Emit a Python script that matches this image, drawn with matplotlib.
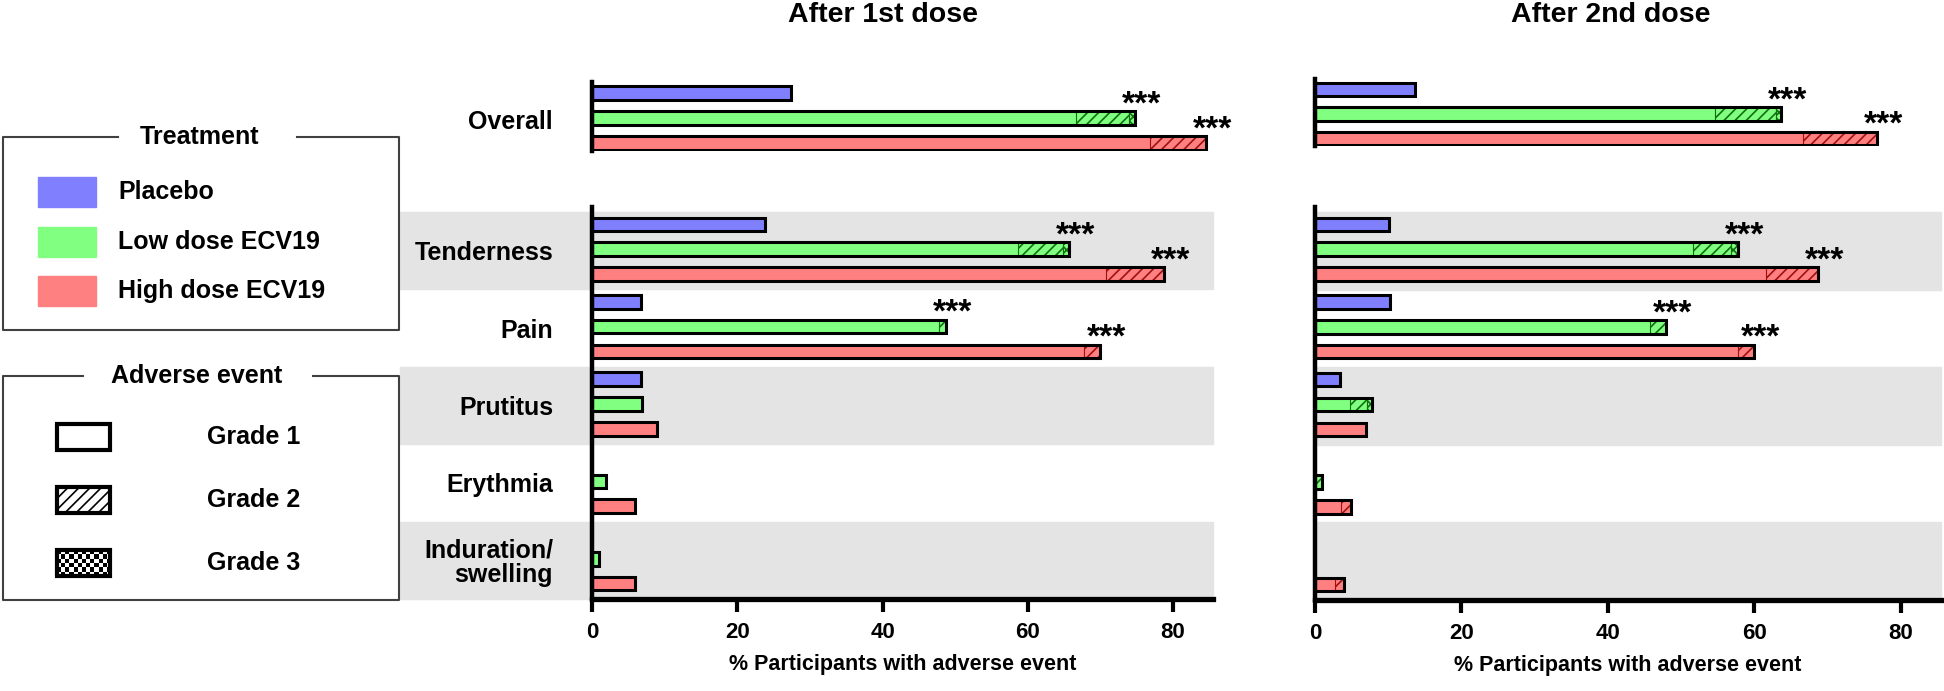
import matplotlib
matplotlib.use("Agg")
import matplotlib.pyplot as plt
from matplotlib.patches import Rectangle
from matplotlib.transforms import blended_transform_factory
import numpy as np

plt.rcParams['font.family'] = ['Liberation Sans', 'DejaVu Sans']
plt.rcParams['font.weight'] = 'bold'
plt.rcParams['axes.labelweight'] = 'bold'
plt.rcParams['hatch.linewidth'] = 1.2

# rows: Overall, Tenderness, Pain, Prutitus, Erythmia, Induration/swelling
rows = ['Overall', 'Tenderness', 'Pain', 'Prutitus', 'Erythmia', 'Induration/\nswelling']
groups = ['Placebo', 'Low dose ECV19', 'High dose ECV19']
grades = ['Grade 1', 'Grade 2', 'Grade 3']
xticks = [0, 20, 40, 60, 80]

# % participants, after 1st dose
d1_placebo_g1 = [27.4, 23.8, 6.8, 6.8, 0, 0]
d1_low_g1 = [66.7, 58.7, 47.8, 6.9, 1.9, 0.9]
d1_low_g2 = [7.2, 6.1, 1.0, 0, 0, 0]
d1_low_g3 = [0.9, 0.9, 0, 0, 0, 0]
d1_high_g1 = [76.8, 70.7, 67.8, 8.9, 5.9, 5.9]
d1_high_g2 = [7.8, 8.0, 2.1, 0, 0, 0]
d1_high_g3 = [0, 0, 0, 0, 0, 0]

# % participants, after 2nd dose
d2_placebo_g1 = [13.6, 10.1, 10.3, 3.4, 0, 0]
d2_low_g1 = [54.7, 51.6, 45.8, 4.8, 0, 0]
d2_low_g2 = [8.3, 5.2, 2.1, 2.3, 0.9, 0]
d2_low_g3 = [0.7, 1.0, 0, 0.7, 0, 0]
d2_high_g1 = [66.6, 61.6, 57.8, 6.9, 3.6, 2.7]
d2_high_g2 = [10.1, 7.1, 2.2, 0, 1.3, 1.2]
d2_high_g3 = [0, 0, 0, 0, 0, 0]

zeros = [0, 0, 0, 0, 0, 0]
# *** markers (p<0.001 vs placebo)
sig_low = [1, 1, 1, 0, 0, 0]
sig_high = [1, 1, 1, 0, 0, 0]

colors = ['#8080ff', '#80ff80', '#ff8080']
darks = ['#2020a0', '#107010', '#a01010']
hatches = [None, '///', 'xxxx']

W, H = 1944, 691
fig = plt.figure(figsize=(W / 100, H / 100), dpi=100)


def box(x0, y0, x1, y1):
    return [x0 / W, 1 - y1 / H, (x1 - x0) / W, (y1 - y0) / H]


offsets = [-0.34, -0.02, 0.30]
bh = 0.175


def draw_bars(ax, ypos, vals, sig):
    # vals: [group][grade]
    for g in range(3):
        y = ypos + offsets[g]
        left = 0
        for k in range(3):
            v = vals[g][k]
            if v <= 0:
                continue
            if k == 0:
                ax.barh(y, v, left=left, height=bh, color=colors[g], lw=0, zorder=2)
            else:
                ax.barh(y, v, left=left, height=bh, color=colors[g], edgecolor=darks[g],
                        hatch=hatches[k], lw=0.8, zorder=2)
            left += v
        if left > 0:
            ax.barh(y, left, height=bh, fill=False, edgecolor='black', lw=2.2, zorder=3)
        if sig[g]:
            ax.text(left + 0.9, y - 0.06, '***', ha='center', va='baseline', fontsize=24, zorder=4)


def panel(ax_up, ax_low, data, x0frac, labels):
    # data: list over groups of (g1, g2, g3)
    for ax in (ax_up, ax_low):
        ax.set_xlim(0, 85.5)
        for s in ('top', 'right'):
            ax.spines[s].set_visible(False)
        ax.spines['left'].set_linewidth(3.2)
        ax.patch.set_visible(False)
    ax_up.spines['bottom'].set_visible(False)
    ax_up.set_ylim(0.40, -0.48)
    ax_up.set_xticks([])
    ax_low.set_ylim(4.5, -0.565)
    ax_low.spines['bottom'].set_linewidth(3.8)

    sigs = [[0] * 6, sig_low, sig_high]
    for r in range(6):
        vals = [[data[g][k][r] for k in range(3)] for g in range(3)]
        sig = [sigs[g][r] for g in range(3)]
        if r == 0:
            draw_bars(ax_up, 0, vals, sig)
        else:
            draw_bars(ax_low, r - 1, vals, sig)

    tr = blended_transform_factory(ax_low.transAxes, ax_low.transData)
    for i in (0, 2, 4):
        ax_low.add_patch(Rectangle((x0frac, i - 0.5), 1 - x0frac, 1, transform=tr,
                                   color='#e4e4e4', zorder=0, clip_on=False))

    ax_up.set_yticks([0])
    ax_low.set_yticks(range(5))
    if labels:
        ax_up.set_yticklabels(rows[:1], fontsize=18)
        ax_low.set_yticklabels(rows[1:], fontsize=18)
        for t in ax_low.get_yticklabels():
            t.set_linespacing(1.0)
    else:
        ax_up.set_yticklabels([])
        ax_low.set_yticklabels([])
    ax_up.tick_params(axis='y', length=0, pad=28)
    ax_low.tick_params(axis='y', length=0, pad=28)
    ax_low.set_xticks(xticks)
    ax_low.tick_params(axis='x', length=9.5, width=3, pad=7, labelsize=16)
    ax_low.set_xlabel('% Participants with adverse event', fontsize=15.5,
                      fontweight='bold', labelpad=8)


ax1u = fig.add_axes(box(592, 82, 1213, 151))
ax1l = fig.add_axes(box(592, 207, 1213, 599))
ax2u = fig.add_axes(box(1315, 79, 1941, 146))
ax2l = fig.add_axes(box(1315, 207, 1941, 600))

d1 = [(d1_placebo_g1, zeros, zeros), (d1_low_g1, d1_low_g2, d1_low_g3), (d1_high_g1, d1_high_g2, d1_high_g3)]
d2 = [(d2_placebo_g1, zeros, zeros), (d2_low_g1, d2_low_g2, d2_low_g3), (d2_high_g1, d2_high_g2, d2_high_g3)]
panel(ax1u, ax1l, d1, (400 - 592) / 621, True)
panel(ax2u, ax2l, d2, 0.0, False)

fig.text(883 / W, 1 - 2 / H, 'After 1st dose', ha='center', va='top', fontsize=20.5)
fig.text(1611 / W, 1 - 2 / H, 'After 2nd dose', ha='center', va='top', fontsize=20.5)

# legend panel drawn in pixel coordinates
lax = fig.add_axes([0, 0, 1, 1])
lax.set_xlim(0, W)
lax.set_ylim(H, 0)
lax.axis('off')
lax.patch.set_visible(False)

lc = '#404040'
lax.plot([118, 3, 3, 399, 399, 297], [137, 137, 330, 330, 137, 137], color=lc, lw=1.5)
lax.text(199, 137, 'Treatment', ha='center', va='center', fontsize=18)
for i, (name, c) in enumerate(zip(groups, colors)):
    yc = 192 + i * 49.5
    lax.add_patch(Rectangle((38, yc - 15), 58, 30, color=c))
    lax.text(118, yc, name, ha='left', va='center', fontsize=18)

lax.plot([83, 3, 3, 399, 399, 313], [376, 376, 600, 600, 376, 376], color=lc, lw=1.5)
lax.text(197, 376, 'Adverse event', ha='center', va='center', fontsize=18)
for i, name in enumerate(grades):
    yc = 437 + i * 63
    if i == 2:
        checker = np.indices((6, 13)).sum(axis=0) % 2
        lax.imshow(checker, cmap='gray', extent=(57, 110, yc + 13, yc - 13),
                   interpolation='nearest', aspect='auto', zorder=1)
        lax.add_patch(Rectangle((57, yc - 13), 53, 26, fill=False, edgecolor='black', lw=3, zorder=2))
    else:
        lax.add_patch(Rectangle((57, yc - 13), 53, 26, facecolor='white', edgecolor='black',
                                lw=3, hatch=hatches[i]))
    lax.text(207, yc, name, ha='left', va='center', fontsize=18)
lax.set_xlim(0, W)
lax.set_ylim(H, 0)

fig.savefig('out.png', dpi=100)
